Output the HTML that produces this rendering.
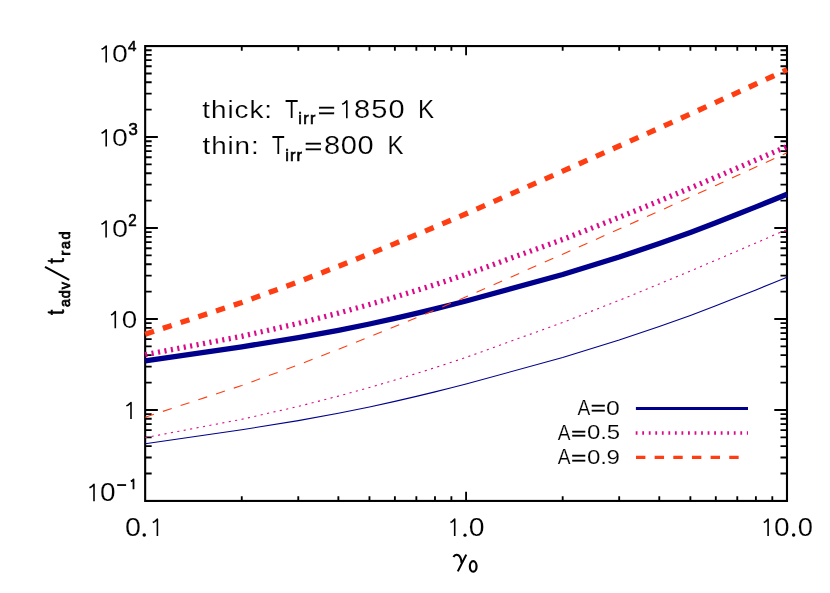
<!DOCTYPE html>
<html><head><meta charset="utf-8"><title>t_adv/t_rad vs gamma_0</title>
<style>html,body{margin:0;padding:0;background:#fff;}body{width:830px;height:593px;overflow:hidden;font-family:"Liberation Sans",sans-serif;}svg{display:block;}text{font-family:"Liberation Sans",sans-serif;fill:#000;}</style></head><body>
<svg width="830" height="593" viewBox="0 0 830 593">
<rect x="0" y="0" width="830" height="593" fill="#fff"/>
<path d="M241.77 500.93v-4.7M241.77 46.07v4.7M298.28 500.93v-4.7M298.28 46.07v4.7M338.37 500.93v-4.7M338.37 46.07v4.7M369.47 500.93v-4.7M369.47 46.07v4.7M394.88 500.93v-4.7M394.88 46.07v4.7M416.36 500.93v-4.7M416.36 46.07v4.7M434.98 500.93v-4.7M434.98 46.07v4.7M451.39 500.93v-4.7M451.39 46.07v4.7M466.08 500.93v-9.2M466.08 46.07v9.2M562.68 500.93v-4.7M562.68 46.07v4.7M619.19 500.93v-4.7M619.19 46.07v4.7M659.29 500.93v-4.7M659.29 46.07v4.7M690.38 500.93v-4.7M690.38 46.07v4.7M715.80 500.93v-4.7M715.80 46.07v4.7M737.28 500.93v-4.7M737.28 46.07v4.7M755.89 500.93v-4.7M755.89 46.07v4.7M772.31 500.93v-4.7M772.31 46.07v4.7M145.16 500.93h12.7M786.99 500.93h-12.7M145.16 473.54h6.5M786.99 473.54h-6.5M145.16 457.53h6.5M786.99 457.53h-6.5M145.16 446.16h6.5M786.99 446.16h-6.5M145.16 437.34h6.5M786.99 437.34h-6.5M145.16 430.14h6.5M786.99 430.14h-6.5M145.16 424.05h6.5M786.99 424.05h-6.5M145.16 418.77h6.5M786.99 418.77h-6.5M145.16 414.12h6.5M786.99 414.12h-6.5M145.16 409.96h12.7M786.99 409.96h-12.7M145.16 382.57h6.5M786.99 382.57h-6.5M145.16 366.55h6.5M786.99 366.55h-6.5M145.16 355.19h6.5M786.99 355.19h-6.5M145.16 346.37h6.5M786.99 346.37h-6.5M145.16 339.17h6.5M786.99 339.17h-6.5M145.16 333.08h6.5M786.99 333.08h-6.5M145.16 327.80h6.5M786.99 327.80h-6.5M145.16 323.15h6.5M786.99 323.15h-6.5M145.16 318.99h12.7M786.99 318.99h-12.7M145.16 291.60h6.5M786.99 291.60h-6.5M145.16 275.58h6.5M786.99 275.58h-6.5M145.16 264.22h6.5M786.99 264.22h-6.5M145.16 255.40h6.5M786.99 255.40h-6.5M145.16 248.20h6.5M786.99 248.20h-6.5M145.16 242.11h6.5M786.99 242.11h-6.5M145.16 236.83h6.5M786.99 236.83h-6.5M145.16 232.18h6.5M786.99 232.18h-6.5M145.16 228.01h12.7M786.99 228.01h-12.7M145.16 200.63h6.5M786.99 200.63h-6.5M145.16 184.61h6.5M786.99 184.61h-6.5M145.16 173.24h6.5M786.99 173.24h-6.5M145.16 164.43h6.5M786.99 164.43h-6.5M145.16 157.22h6.5M786.99 157.22h-6.5M145.16 151.13h6.5M786.99 151.13h-6.5M145.16 145.86h6.5M786.99 145.86h-6.5M145.16 141.20h6.5M786.99 141.20h-6.5M145.16 137.04h12.7M786.99 137.04h-12.7M145.16 109.66h6.5M786.99 109.66h-6.5M145.16 93.64h6.5M786.99 93.64h-6.5M145.16 82.27h6.5M786.99 82.27h-6.5M145.16 73.46h6.5M786.99 73.46h-6.5M145.16 66.25h6.5M786.99 66.25h-6.5M145.16 60.16h6.5M786.99 60.16h-6.5M145.16 54.89h6.5M786.99 54.89h-6.5M145.16 50.23h6.5M786.99 50.23h-6.5M145.16 46.07h12.7M786.99 46.07h-12.7" stroke="#000" stroke-width="1.85" fill="none"/>
<rect x="145.16" y="46.07" width="641.83" height="454.86" fill="none" stroke="#000" stroke-width="2.1"/>
<g fill="none" stroke-linejoin="round">
<path d="M145.16 360.80L241.77 346.80L298.28 337.62L338.37 330.30L369.47 324.00L394.88 318.40L416.36 313.39L434.98 308.86L451.39 304.75L466.08 301.00L562.68 274.50L619.19 257.07L659.29 243.59L690.38 232.40L715.80 222.76L737.28 214.34L755.89 206.89L772.31 200.26L786.99 194.30" stroke="#00008c" stroke-width="5.3"/>
<path d="M145.16 354.70L241.77 336.30L298.28 323.41L338.37 313.11L369.47 304.50L394.88 297.07L416.36 290.52L434.98 284.64L451.39 279.30L466.08 274.40L562.68 239.50L619.19 217.34L659.29 200.99L690.38 188.00L715.80 177.21L737.28 168.00L755.89 159.97L772.31 152.86L786.99 146.50" stroke="#db0a8a" stroke-width="5.3" stroke-dasharray="2.1 4.44"/>
<path d="M145.16 334.20L241.77 302.50L298.28 281.86L338.37 266.31L369.47 253.90L394.88 243.59L416.36 234.76L434.98 227.00L451.39 220.07L466.08 213.80L562.68 171.20L619.19 146.01L659.29 128.05L690.38 114.00L715.80 102.43L737.28 92.58L755.89 84.03L772.31 76.47L786.99 69.70" stroke="#ff3d12" stroke-width="5.3" stroke-dasharray="9.3 9.35"/>
<path d="M145.16 443.80L241.77 429.80L298.28 420.62L338.37 413.30L369.47 407.00L394.88 401.40L416.36 396.39L434.98 391.86L451.39 387.75L466.08 384.00L562.68 357.50L619.19 340.07L659.29 326.59L690.38 315.40L715.80 305.76L737.28 297.34L755.89 289.89L772.31 283.26L786.99 277.30" stroke="#00008c" stroke-width="1.1"/>
<path d="M145.16 437.70L241.77 419.30L298.28 406.41L338.37 396.11L369.47 387.50L394.88 380.07L416.36 373.52L434.98 367.64L451.39 362.30L466.08 357.40L562.68 322.50L619.19 300.34L659.29 283.99L690.38 271.00L715.80 260.21L737.28 251.00L755.89 242.97L772.31 235.86L786.99 229.50" stroke="#db0a8a" stroke-width="1.1" stroke-dasharray="2.1 4.44"/>
<path d="M145.16 417.20L241.77 385.50L298.28 364.86L338.37 349.31L369.47 336.90L394.88 326.59L416.36 317.76L434.98 310.00L451.39 303.07L466.08 296.80L562.68 254.20L619.19 229.01L659.29 211.05L690.38 197.00L715.80 185.43L737.28 175.58L755.89 167.03L772.31 159.47L786.99 152.70" stroke="#ff3d12" stroke-width="1.1" stroke-dasharray="9.3 9.35"/>
</g>
<path d="M635.9 408.5H748" stroke="#00008c" stroke-width="3.2" fill="none"/>
<path d="M635.7 433H748" stroke="#db0a8a" stroke-width="3.6" stroke-dasharray="1.8 4.74" fill="none"/>
<path d="M636 457.4H747" stroke="#ff3d12" stroke-width="3.4" stroke-dasharray="9.4 9.25" fill="none"/>
<path d="M453.4 557.0C454.4 555.2 456.2 554.5 457.8 555.0C459.8 555.8 461.3 559.1 461.6 562.8M466.25 554.6L457.8 571.4" stroke="#000" stroke-width="2.05" fill="none"/>
<ellipse cx="473.2" cy="566.45" rx="3.35" ry="5.25" fill="none" stroke="#000" stroke-width="2.2"/>
<path d="M45.0 266.8L69.2 279.9" stroke="#000" stroke-width="2.1" fill="none"/>
<path d="M117.2 485.05H126.1" stroke="#000" stroke-width="1.8" fill="none"/>
<path d="M101.56 49.28L103.51 48.38L106.20 45.98V62.50" stroke="#000" stroke-width="1.6" fill="none" stroke-linejoin="round"/>
<path d="M101.56 133.18L103.51 132.28L106.20 129.88V146.40" stroke="#000" stroke-width="1.6" fill="none" stroke-linejoin="round"/>
<path d="M101.46 224.28L103.41 223.38L106.10 220.98V237.50" stroke="#000" stroke-width="1.6" fill="none" stroke-linejoin="round"/>
<path d="M111.06 315.00L112.84 314.09L115.30 311.68V328.30" stroke="#000" stroke-width="1.6" fill="none" stroke-linejoin="round"/>
<path d="M126.36 405.86L128.31 404.96L131.00 402.58V419.00" stroke="#000" stroke-width="1.6" fill="none" stroke-linejoin="round"/>
<path d="M89.46 487.76L91.37 486.83L94.00 484.38V501.30" stroke="#000" stroke-width="1.6" fill="none" stroke-linejoin="round"/>
<path d="M130.83 481.39L131.95 480.86L133.50 479.44V489.20" stroke="#000" stroke-width="1.8" fill="none" stroke-linejoin="round"/>
<circle cx="144.25" cy="535.08" r="1.72" fill="#000"/>
<path d="M152.76 522.52L154.71 521.60L157.40 519.18V535.90" stroke="#000" stroke-width="1.6" fill="none" stroke-linejoin="round"/>
<path d="M450.46 522.52L452.24 521.60L454.70 519.18V535.90" stroke="#000" stroke-width="1.6" fill="none" stroke-linejoin="round"/>
<circle cx="465.00" cy="535.20" r="1.60" fill="#000"/>
<path d="M763.76 522.52L765.58 521.60L768.10 519.18V535.90" stroke="#000" stroke-width="1.6" fill="none" stroke-linejoin="round"/>
<circle cx="793.65" cy="535.08" r="1.72" fill="#000"/>
<path d="M342.16 104.34L344.11 103.39L346.80 100.88V118.20" stroke="#000" stroke-width="1.6" fill="none" stroke-linejoin="round"/>
<g style="opacity:0.999">
<text transform="matrix(1.2372 0 0 1.0585 112.06 62.44)" font-size="23" font-weight="normal" stroke="#fff" stroke-width="0.15">0</text>
<text transform="matrix(1.0061 0 0 0.9860 128.00 50.55)" font-size="15" font-weight="normal" stroke="#000" stroke-width="0.6">4</text>
<text transform="matrix(1.2372 0 0 1.0585 112.06 146.34)" font-size="23" font-weight="normal" stroke="#fff" stroke-width="0.15">0</text>
<text transform="matrix(1.1097 0 0 1.0400 128.42 134.98)" font-size="15" font-weight="normal" stroke="#000" stroke-width="0.6">3</text>
<text transform="matrix(1.2558 0 0 1.0585 112.04 237.44)" font-size="23" font-weight="normal" stroke="#fff" stroke-width="0.15">0</text>
<text transform="matrix(1.0067 0 0 1.0545 128.25 226.14)" font-size="15" font-weight="normal" stroke="#000" stroke-width="0.6">2</text>
<text transform="matrix(1.2093 0 0 1.0646 121.69 328.23)" font-size="23" font-weight="normal" stroke="#fff" stroke-width="0.15">0</text>
<text transform="matrix(1.2186 0 0 1.0831 99.88 501.23)" font-size="23" font-weight="normal" stroke="#fff" stroke-width="0.15">0</text>
<text transform="matrix(1.2465 0 0 1.0892 124.95 535.93)" font-size="23" font-weight="normal" stroke="#fff" stroke-width="0.15">0</text>
<text transform="matrix(1.2372 0 0 1.0892 468.66 535.93)" font-size="23" font-weight="normal" stroke="#fff" stroke-width="0.15">0</text>
<text transform="matrix(1.2186 0 0 1.0892 773.98 535.93)" font-size="23" font-weight="normal" stroke="#fff" stroke-width="0.15">0</text>
<text transform="matrix(1.1907 0 0 1.0892 797.71 535.93)" font-size="23" font-weight="normal" stroke="#fff" stroke-width="0.15">0</text>
<text transform="matrix(1.2109 0 0 1.0529 202.29 118.14)" font-size="23" font-weight="normal" stroke="#fff" stroke-width="0.15" letter-spacing="0.784">thick:</text>
<text transform="matrix(0.9538 0 0 1.1250 284.92 118.20)" font-size="23" font-weight="normal" stroke="#fff" stroke-width="0.15">T</text>
<text transform="matrix(1.0756 0 0 1.0756 298.19 124.43)" font-size="15" font-weight="normal" stroke="#000" stroke-width="0.6" letter-spacing="1.327">irr</text>
<text transform="matrix(1.3130 0 0 0.9375 317.69 117.82)" font-size="23" font-weight="normal" stroke="#000" stroke-width="0.4">=</text>
<text transform="matrix(1.2615 0 0 1.0970 353.94 118.13)" font-size="23" font-weight="normal" stroke="#fff" stroke-width="0.15" letter-spacing="0.939">850</text>
<text transform="matrix(1.0510 0 0 1.1125 417.90 118.30)" font-size="23" font-weight="normal" stroke="#fff" stroke-width="0.15">K</text>
<text transform="matrix(1.2109 0 0 1.0529 202.59 154.14)" font-size="23" font-weight="normal" stroke="#fff" stroke-width="0.15" letter-spacing="0.714">thin:</text>
<text transform="matrix(0.9231 0 0 1.1250 271.74 154.20)" font-size="23" font-weight="normal" stroke="#fff" stroke-width="0.15">T</text>
<text transform="matrix(1.0933 0 0 1.0933 285.18 160.53)" font-size="15" font-weight="normal" stroke="#000" stroke-width="0.6" letter-spacing="1.067">irr</text>
<text transform="matrix(1.3217 0 0 0.9375 304.48 153.82)" font-size="23" font-weight="normal" stroke="#000" stroke-width="0.4">=</text>
<text transform="matrix(1.2615 0 0 1.0970 323.94 154.13)" font-size="23" font-weight="normal" stroke="#fff" stroke-width="0.15" letter-spacing="0.543">800</text>
<text transform="matrix(1.0431 0 0 1.1125 387.51 154.30)" font-size="23" font-weight="normal" stroke="#fff" stroke-width="0.15">K</text>
<text transform="matrix(0.9569 0 0 1.0691 577.46 415.00)" font-size="20" font-weight="normal" stroke="#fff" stroke-width="0.15">A</text>
<text transform="matrix(1.2878 0 0 0.8714 590.83 414.31)" font-size="20" font-weight="normal" stroke="#000" stroke-width="0.5">=</text>
<text transform="matrix(1.2432 0 0 1.0500 606.06 414.74)" font-size="20" font-weight="normal" stroke="#fff" stroke-width="0.15">0</text>
<text transform="matrix(0.9569 0 0 1.0618 557.86 439.60)" font-size="20" font-weight="normal" stroke="#fff" stroke-width="0.15">A</text>
<text transform="matrix(1.2878 0 0 0.8571 571.23 438.87)" font-size="20" font-weight="normal" stroke="#000" stroke-width="0.5">=</text>
<text transform="matrix(1.1993 0 0 1.0429 587.00 439.34)" font-size="20" font-weight="normal" stroke="#fff" stroke-width="0.15" letter-spacing="-0.117">0.5</text>
<text transform="matrix(0.9569 0 0 1.0691 557.86 464.40)" font-size="20" font-weight="normal" stroke="#fff" stroke-width="0.15">A</text>
<text transform="matrix(1.2878 0 0 0.8714 571.23 463.71)" font-size="20" font-weight="normal" stroke="#000" stroke-width="0.5">=</text>
<text transform="matrix(1.2075 0 0 1.0500 586.99 464.14)" font-size="20" font-weight="normal" stroke="#fff" stroke-width="0.15" letter-spacing="-0.204">0.9</text>
<text transform="matrix(0 -0.8462 1.0730 0 64.36 315.10)" font-size="23" font-weight="normal" stroke="#000" stroke-width="0.5">t</text>
<text transform="matrix(0 -0.9565 0.9565 0 70.32 307.04)" font-size="15" font-weight="normal" stroke="#000" stroke-width="0.8" letter-spacing="0.943">adv</text>
<text transform="matrix(0 -0.8462 1.0730 0 64.36 263.40)" font-size="23" font-weight="normal" stroke="#000" stroke-width="0.5">t</text>
<text transform="matrix(0 -0.9565 0.9565 0 70.32 255.48)" font-size="15" font-weight="normal" stroke="#000" stroke-width="0.8" letter-spacing="1.668">rad</text>
</g>
</svg></body></html>
